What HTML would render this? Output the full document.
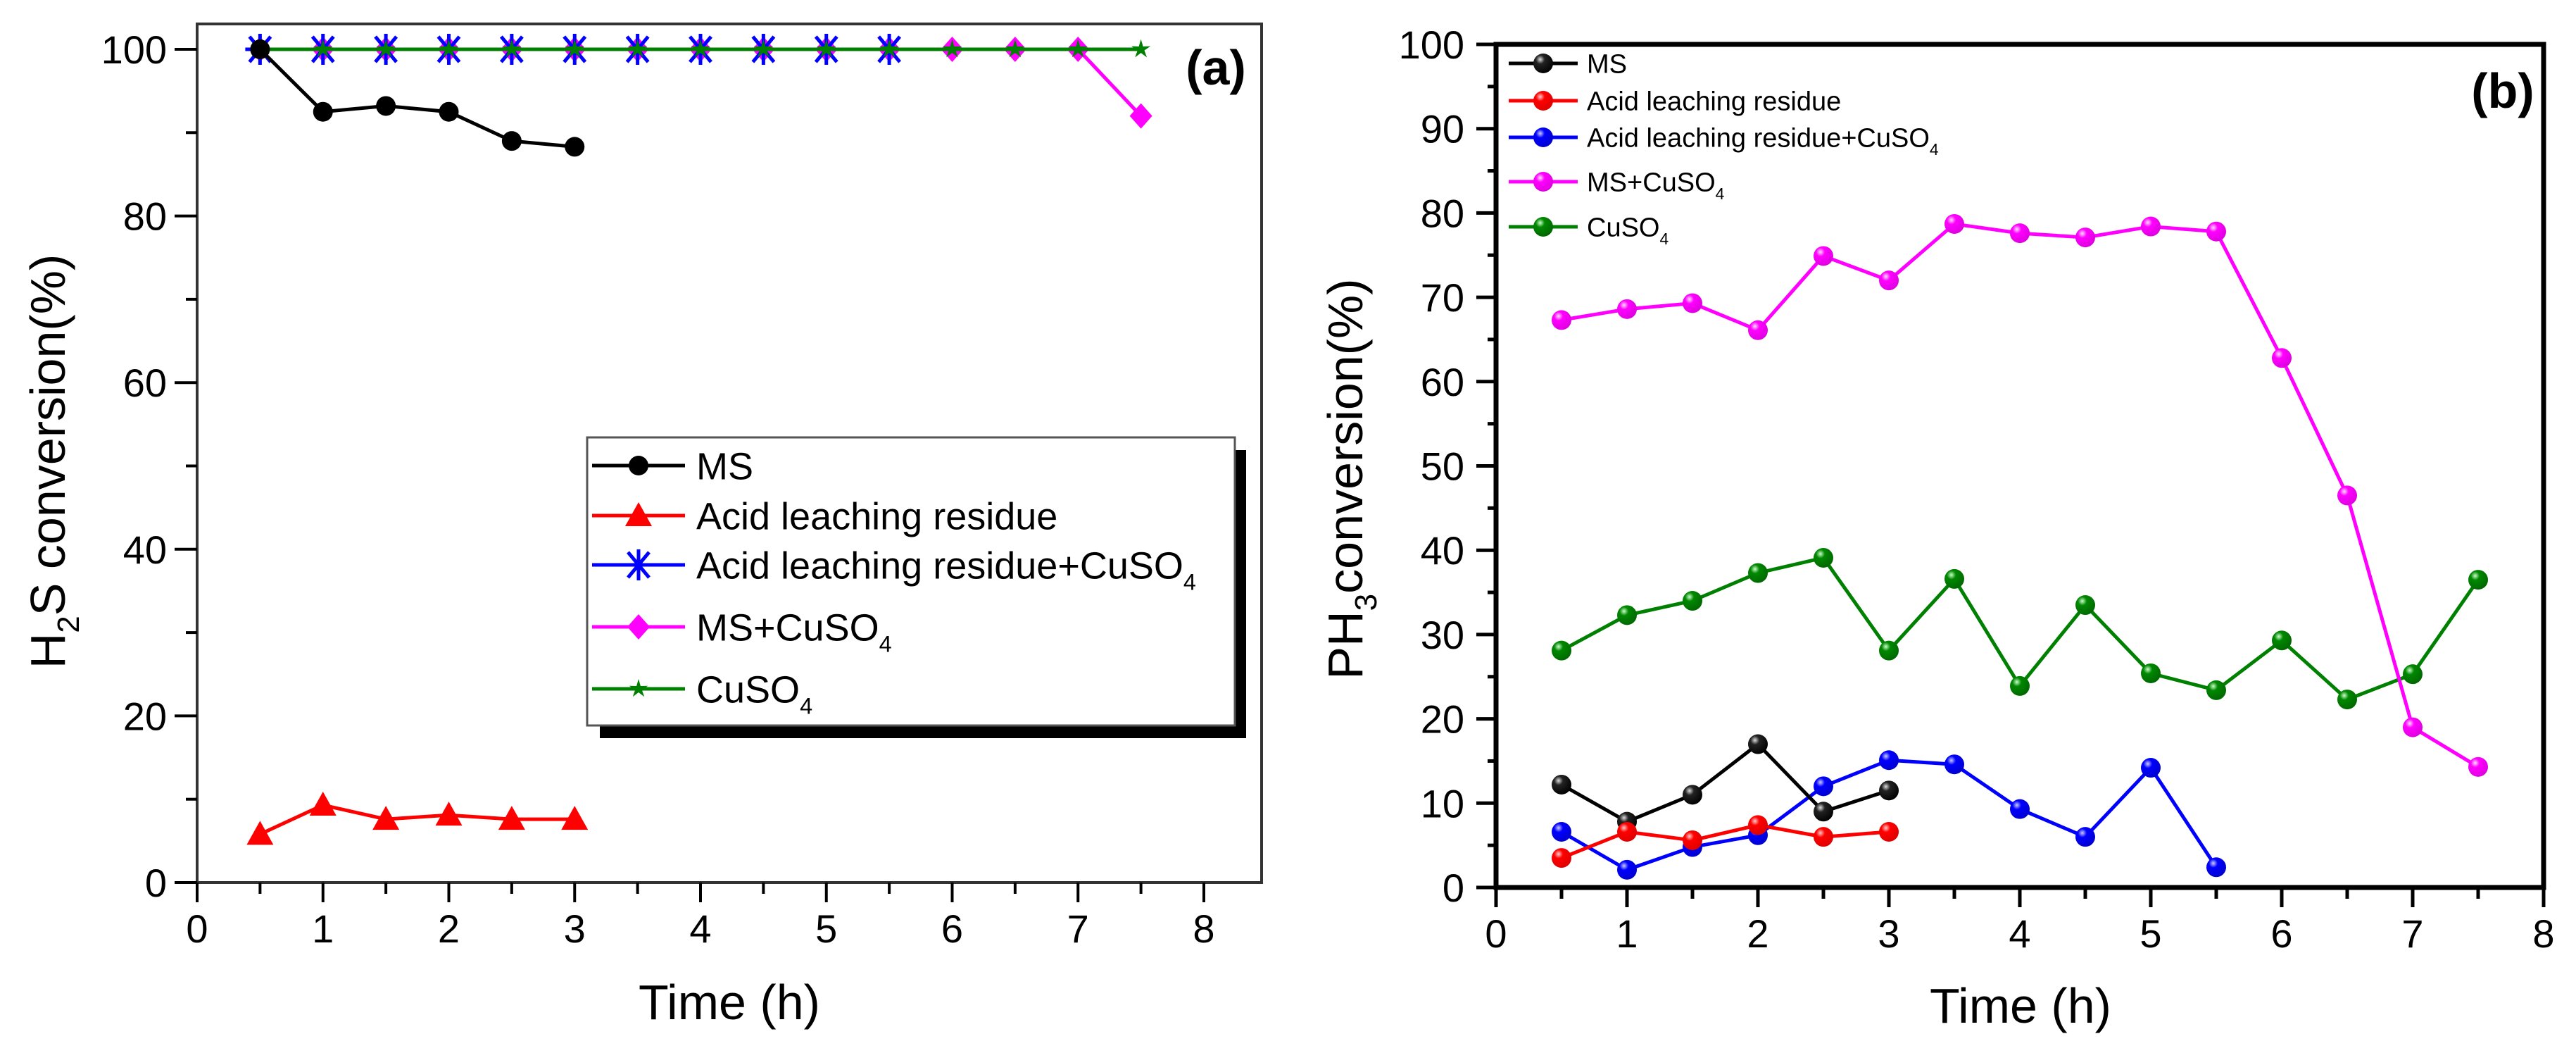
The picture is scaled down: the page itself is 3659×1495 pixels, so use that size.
<!DOCTYPE html>
<html><head><meta charset="utf-8"><style>
html,body{margin:0;padding:0;background:#fff;}
svg{display:block;font-family:"Liberation Sans",Arial,sans-serif;}
</style></head><body>
<svg id="chart" xmlns="http://www.w3.org/2000/svg" width="3659" height="1495" viewBox="0 0 3659 1495">
<defs>
<radialGradient id="gk" cx="0.35" cy="0.3" r="0.75"><stop offset="0" stop-color="#ddd"/><stop offset="0.3" stop-color="#222"/><stop offset="1" stop-color="#000"/></radialGradient>
<radialGradient id="gr" cx="0.35" cy="0.3" r="0.75"><stop offset="0" stop-color="#fcc"/><stop offset="0.3" stop-color="#f00"/><stop offset="1" stop-color="#d00"/></radialGradient>
<radialGradient id="gb" cx="0.35" cy="0.3" r="0.75"><stop offset="0" stop-color="#ccf"/><stop offset="0.3" stop-color="#00f"/><stop offset="1" stop-color="#00c"/></radialGradient>
<radialGradient id="gm" cx="0.35" cy="0.3" r="0.75"><stop offset="0" stop-color="#fdf"/><stop offset="0.3" stop-color="#f0f"/><stop offset="1" stop-color="#d0d"/></radialGradient>
<radialGradient id="gg" cx="0.35" cy="0.3" r="0.75"><stop offset="0" stop-color="#cfc"/><stop offset="0.3" stop-color="#080"/><stop offset="1" stop-color="#060"/></radialGradient>
</defs>
<rect x="0" y="0" width="3659" height="1495" fill="#fff"/>
<g id="pa"></g>
<g id="pb"></g>
</svg>
<script>
// ---- data ----
const timesA = [0.5,1,1.5,2,2.5,3,3.5,4,4.5,5,5.5,6,6.5,7,7.5];
const aMS = [100,92.5,93.2,92.5,89,88.3];
const aAcid = [5.8,9.3,7.6,8.1,7.6,7.6];
const aAcidCu = [100,100,100,100,100,100,100,100,100,100,100];
const aMSCu = [100,100,100,100,100,100,100,100,100,100,100,100,100,100,92];
const aCu = [100,100,100,100,100,100,100,100,100,100,100,100,100,100,100];
const bMS = [12.2,7.8,11,17,9,11.5];
const bAcid = [3.5,6.6,5.6,7.4,6,6.6];
const bAcidCu = [6.6,2.1,4.8,6.2,12,15.1,14.6,9.3,6,14.2,2.4];
const bMSCu = [67.3,68.6,69.3,66.1,74.9,72,78.7,77.6,77.1,78.4,77.8,62.8,46.5,19,14.3];
const bCu = [28.1,32.3,34,37.3,39.1,28.1,36.6,23.9,33.5,25.4,23.4,29.3,22.3,25.3,36.5];
const xTicks = [0,1,2,3,4,5,6,7,8];
const yTicksA = [0,20,40,60,80,100];
const yTicksB = [0,10,20,30,40,50,60,70,80,90,100];

const NS='http://www.w3.org/2000/svg';
function mk(parent,tag,attrs,text){const e=document.createElementNS(NS,tag);for(const k in attrs)e.setAttribute(k,attrs[k]);if(text!==undefined)e.textContent=text;parent.appendChild(e);return e;}

// axis functions
const A={x0:280,ux:178.75,y0:1253,uy:11.83};
const B={x0:2125,ux:186,y0:1260,uy:11.97};
const axA=v=>A.x0+v*A.ux, ayA=v=>A.y0-v*A.uy;
const axB=v=>B.x0+v*B.ux, ayB=v=>B.y0-v*B.uy;

function marker(g,type,x,y,color,grad){
  let e;
  if(type==='circle'){e=mk(g,'circle',{cx:x,cy:y,r:14,fill:color});}
  else if(type==='tri'){e=mk(g,'polygon',{points:`${x},${y-19} ${x-19},${y+15} ${x+19},${y+15}`,fill:color});}
  else if(type==='ast'){e=mk(g,'path',{d:`M${x-21},${y} H${x+21} M${x},${y-22} V${y+22} M${x-15},${y-18} L${x+15},${y+18} M${x+15},${y-18} L${x-15},${y+18}`,stroke:color,'stroke-width':5,fill:'none'});}
  else if(type==='dia'){e=mk(g,'polygon',{points:`${x},${y-18} ${x+16},${y} ${x},${y+18} ${x-16},${y}`,fill:color});}
  else if(type==='star'){let p=[];for(let i=0;i<10;i++){const r=i%2?5:14;const a=-Math.PI/2+i*Math.PI/5;p.push((x+r*Math.cos(a)).toFixed(1)+','+(y+r*Math.sin(a)).toFixed(1));}e=mk(g,'polygon',{points:p.join(' '),fill:color});}
  else if(type==='ball'){e=mk(g,'circle',{cx:x,cy:y,r:14,fill:'url(#'+grad+')'});}
  return e;
}

function series(g,name,vals,ax,ay,color,type,grad,lw){
  const sg=mk(g,'g',{});
  
  
  const pts=vals.map((v,i)=>ax(timesA[i]).toFixed(1)+','+ay(v).toFixed(1)).join(' ');
  const ln=mk(sg,'polyline',{points:pts,fill:'none',stroke:color,'stroke-width':lw});
  
  
  vals.forEach((v,i)=>{
    const m=marker(sg,type,ax(timesA[i]),ay(v),color,grad);
    
    
  });
}

function legendEntry(g,name,x1,x2,y,color,type,grad,lw,label,sub,fs,tx){
  const lg=mk(g,'g',{});
  
  
  mk(lg,'line',{x1:x1,y1:y,x2:x2,y2:y,stroke:color,'stroke-width':lw});
  marker(lg,type,(x1+x2)/2,y,color,grad);
  const t=mk(lg,'text',{x:tx,y:y+fs*0.36,'font-size':fs,fill:'#000'});
  t.appendChild(document.createTextNode(label));
  if(sub){const s=mk(t,'tspan',{dy:fs*0.3,'font-size':fs*0.6});s.textContent=sub;}
}

// ---- Panel A ----
const pa=document.getElementById('pa');
mk(pa,'rect',{x:280,y:34,width:1512,height:1219,fill:'none',stroke:'#333','stroke-width':4});
const ta=mk(pa,'g',{});


for(let v=0;v<=8.01;v+=0.5){const x=axA(v);const maj=Math.abs(v-Math.round(v))<0.01;mk(ta,'line',{x1:x,y1:1253,x2:x,y2:1253+(maj?28:16),stroke:'#000','stroke-width':4});}
xTicks.forEach(v=>{mk(ta,'text',{x:axA(v),y:1338,'font-size':56,'text-anchor':'middle'},String(v));});
const ya=mk(pa,'g',{});


for(let v=0;v<=100;v+=10){const y=ayA(v);const maj=v%20===0;mk(ya,'line',{x1:280,y1:y,x2:280-(maj?32:16),y2:y,stroke:'#000','stroke-width':4});}
yTicksA.forEach(v=>{mk(ya,'text',{x:237,y:ayA(v)+20,'font-size':56,'text-anchor':'end'},String(v));});
mk(pa,'text',{x:1036,y:1447,'font-size':70,'text-anchor':'middle',},'Time (h)');
const yta=mk(pa,'text',{x:0,y:0,'font-size':70,'text-anchor':'middle',transform:'translate(92,655) rotate(-90)',});
yta.appendChild(document.createTextNode('H'));
mk(yta,'tspan',{dy:20,'font-size':44},'2');
mk(yta,'tspan',{dy:-20},'S conversion(%)');
mk(pa,'text',{x:1727,y:120,'font-size':70,'font-weight':'bold','text-anchor':'middle',},'(a)');

series(pa,'series-a-cuso4',aCu,axA,ayA,'#008000','star',null,5);
series(pa,'series-a-ms-cuso4',aMSCu,axA,ayA,'#ff00ff','dia',null,5);
series(pa,'series-a-acid-cuso4',aAcidCu,axA,ayA,'#0000ff','ast',null,4);
series(pa,'series-a-cuso4-top',aCu,axA,ayA,'#008000','star',null,5);
series(pa,'series-a-ms',aMS,axA,ayA,'#000','circle',null,5);
series(pa,'series-a-acid',aAcid,axA,ayA,'#ff0000','tri',null,5);

const lga=mk(pa,'g',{});


mk(lga,'rect',{x:852,y:639,width:918,height:409,fill:'#000'});
mk(lga,'rect',{x:834,y:621,width:920,height:409,fill:'#fff',stroke:'#555','stroke-width':3});
legendEntry(lga,'legend-a-ms',841,973,661,'#000','circle',null,5,'MS','',54,989);
legendEntry(lga,'legend-a-acid',841,973,732,'#ff0000','tri',null,5,'Acid leaching residue','',54,989);
legendEntry(lga,'legend-a-acid-cuso4',841,973,802,'#0000ff','ast',null,5,'Acid leaching residue+CuSO','4',54,989);
legendEntry(lga,'legend-a-ms-cuso4',841,973,890,'#ff00ff','dia',null,5,'MS+CuSO','4',54,989);
legendEntry(lga,'legend-a-cuso4',841,973,978,'#008000','star',null,5,'CuSO','4',54,989);

// ---- Panel B ----
const pb=document.getElementById('pb');
mk(pb,'rect',{x:2125,y:63,width:1488,height:1197,fill:'none',stroke:'#000','stroke-width':7});
const tb=mk(pb,'g',{});


for(let v=0;v<=8.01;v+=0.5){const x=axB(v);const maj=Math.abs(v-Math.round(v))<0.01;mk(tb,'line',{x1:x,y1:1260,x2:x,y2:1260+(maj?28:16),stroke:'#000','stroke-width':5});}
xTicks.forEach(v=>{mk(tb,'text',{x:axB(v),y:1345,'font-size':56,'text-anchor':'middle'},String(v));});
const yb=mk(pb,'g',{});


for(let v=0;v<=100;v+=5){const y=ayB(v);const maj=v%10===0;mk(yb,'line',{x1:2125,y1:y,x2:2125-(maj?28:12),y2:y,stroke:'#000','stroke-width':5});}
yTicksB.forEach(v=>{mk(yb,'text',{x:2080,y:ayB(v)+20,'font-size':56,'text-anchor':'end'},String(v));});
mk(pb,'text',{x:2870,y:1452,'font-size':70,'text-anchor':'middle',},'Time (h)');
const ytb=mk(pb,'text',{x:0,y:0,'font-size':70,'text-anchor':'middle',transform:'translate(1935,680) rotate(-90)',});
ytb.appendChild(document.createTextNode('PH'));
mk(ytb,'tspan',{dy:20,'font-size':44},'3');
mk(ytb,'tspan',{dy:-20},'conversion(%)');
mk(pb,'text',{x:3555,y:153,'font-size':70,'font-weight':'bold','text-anchor':'middle',},'(b)');

series(pb,'series-b-cuso4',bCu,axB,ayB,'#008000','ball','gg',5);
series(pb,'series-b-ms-cuso4',bMSCu,axB,ayB,'#ff00ff','ball','gm',5);
series(pb,'series-b-acid-cuso4',bAcidCu,axB,ayB,'#0000ff','ball','gb',5);
series(pb,'series-b-ms',bMS,axB,ayB,'#000','ball','gk',5);
series(pb,'series-b-acid',bAcid,axB,ayB,'#ff0000','ball','gr',5);

const lgb=mk(pb,'g',{});


legendEntry(lgb,'legend-b-ms',2143,2241,90,'#000','ball','gk',5,'MS','',38,2254);
legendEntry(lgb,'legend-b-acid',2143,2241,143,'#ff0000','ball','gr',5,'Acid leaching residue','',38,2254);
legendEntry(lgb,'legend-b-acid-cuso4',2143,2241,195,'#0000ff','ball','gb',5,'Acid leaching residue+CuSO','4',38,2254);
legendEntry(lgb,'legend-b-ms-cuso4',2143,2241,258,'#ff00ff','ball','gm',5,'MS+CuSO','4',38,2254);
legendEntry(lgb,'legend-b-cuso4',2143,2241,322,'#008000','ball','gg',5,'CuSO','4',38,2254);
</script>
</body></html>
